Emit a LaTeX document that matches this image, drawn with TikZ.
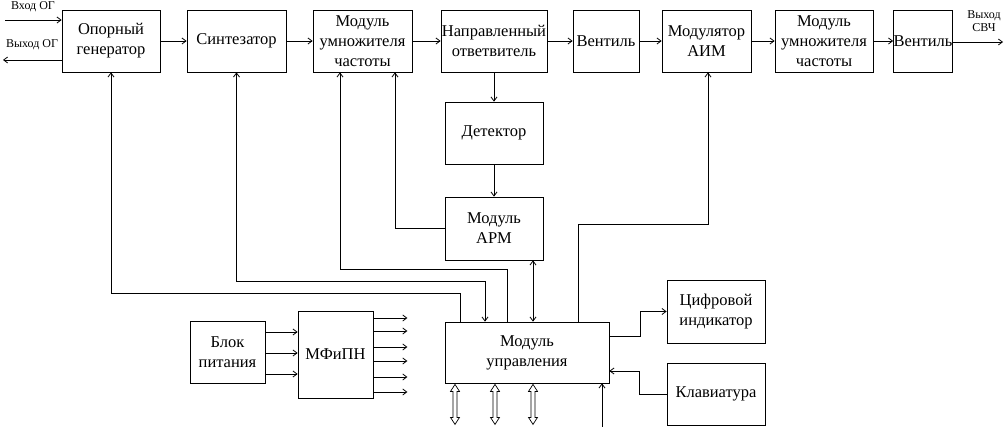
\documentclass[tikz,border=0pt]{standalone}
\usepackage{fontspec}
\newfontfamily\rusf{Liberation Serif}
\usetikzlibrary{arrows.meta}
\begin{document}
\begin{tikzpicture}[x=1pt,y=-1pt,
  line width=0.8pt,
  >={Straight Barb[length=4pt,width=6pt]},
  blk/.style={draw, inner sep=0pt, align=center, font=\rusf\fontsize{16.5}{20}\selectfont},
  lbl/.style={inner sep=0pt, align=center, font=\rusf\fontsize{12}{13}\selectfont},
  bus/.style={line width=0.7pt, line join=miter}]
\useasboundingbox (0,0) rectangle (1008,427);
% top row
\node[blk, minimum width=98pt, minimum height=62pt] (og) at (111,41) {Опорный\\генератор};
\node[blk, minimum width=99pt, minimum height=62pt] (syn) at (236.5,41) {Синтезатор};
\node[blk, minimum width=99pt, minimum height=62pt] (mul1) at (362.5,41) {Модуль\\умножителя\\частоты};
\node[blk, minimum width=106pt, minimum height=62pt] (nap) at (494,41) {Направленный\\ответвитель};
\node[blk, minimum width=66pt, minimum height=62pt] (ven1) at (606,41) {Вентиль};
\node[blk, minimum width=89pt, minimum height=62pt] (aim) at (706.5,41) {Модулятор\\АИМ};
\node[blk, minimum width=98pt, minimum height=62pt] (mul2) at (824,41) {Модуль\\умножителя\\частоты};
\node[blk, minimum width=58pt, minimum height=62pt] (ven2) at (923,41) {Вентиль};
% middle
\node[blk, minimum width=98pt, minimum height=62pt] (det) at (494,133) {Детектор};
\node[blk, minimum width=98pt, minimum height=63pt] (arm) at (494,228.5) {Модуль\\АРМ};
\node[blk, minimum width=164pt, minimum height=61pt] (upr) at (527,352.5) {Модуль\\управления};
\node[blk, minimum width=98pt, minimum height=63pt] (ind) at (716,311.5) {Цифровой\\индикатор};
\node[blk, minimum width=98pt, minimum height=62pt] (kla) at (716,394) {Клавиатура};
\node[blk, minimum width=75pt, minimum height=62pt] (bp) at (227.5,352) {Блок\\питания};
\node[blk, minimum width=75pt, minimum height=87pt] (mf) at (335.5,354.5) {МФиПН};
% labels
\node[lbl] (lin) at (33,7) {Вход ОГ};
\node[lbl] (lout) at (32,45) {Выход ОГ};
\node[lbl] (lsvch) at (984,21) {Выход\\СВЧ};
\coordinate (inA) at (5,20);
\coordinate (outA) at (3,60);
\coordinate (outB) at (1003,42);
\coordinate (bin) at (602,427);
% signal chain
\draw[->] (inA) -- (inA -| og.west);
\draw[->] (og.west |- outA) -- (outA);
\draw[->] (og) -- (syn);
\draw[->] (syn) -- (mul1);
\draw[->] (mul1) -- (nap);
\draw[->] (nap) -- (ven1);
\draw[->] (ven1) -- (aim);
\draw[->] (aim) -- (mul2);
\draw[->] (mul2) -- (ven2);
\draw[->] (ven2.east |- outB) -- (outB);
\draw[->] (nap) -- (det);
\draw[->] (det) -- (arm);
\draw[->] (arm.west) -| ([xshift=32.5pt]mul1.south);
% control lines
\draw[->] ([xshift=-67pt]upr.north) -- ++(0,-28) -| (og.south);
\draw[<->] ([xshift=-42pt]upr.north) -- ++(0,-40) -| (syn.south);
\draw[->] ([xshift=-20pt]upr.north) -- ++(0,-52) -| ([xshift=-22.5pt]mul1.south);
\draw[<->] ([xshift=39pt]arm.south) -- ([xshift=39pt]arm.south |- upr.north);
\draw[->] ([xshift=51pt]upr.north) -- ++(0,-97) -| ([xshift=1.5pt]aim.south);
\draw[->] ([yshift=16.5pt]upr.east) -- ++(31,0) |- (ind.west);
\draw[->] (kla.west) -- ++(-27,0) |- ([yshift=-18.5pt]upr.east);
\draw[->] (bin) -- (bin |- upr.south);
% hollow bus arrows
\foreach \dx in {-72,-32,6}
  \draw[bus] ([xshift=\dx pt, yshift=-1pt]upr.south) -- ++(4.5,7) -- ++(-2.5,0) -- ++(0,26) -- ++(2.5,0)
     -- ++(-4.5,7) -- ++(-4.5,-7) -- ++(2.5,0) -- ++(0,-26) -- ++(-2.5,0) -- cycle;
% power
\draw[->] ([yshift=20pt]bp.east) -- ([yshift=20pt]bp.east -| mf.west);
\draw[->] ([yshift=-1pt]bp.east) -- ([yshift=-1pt]bp.east -| mf.west);
\draw[->] ([yshift=-22pt]bp.east) -- ([yshift=-22pt]bp.east -| mf.west);
\foreach \yy in {318,331,347,361,377,392}
  \draw[->] (mf.east |- 0,\yy) -- ++(34,0);
\end{tikzpicture}
\end{document}
